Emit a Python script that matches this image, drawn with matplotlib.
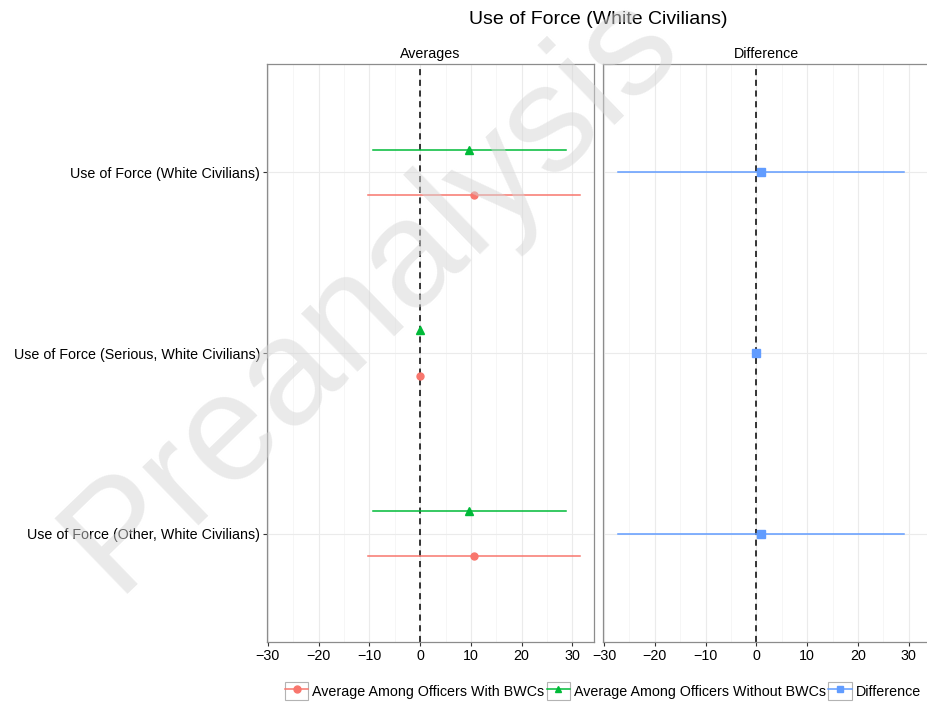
import matplotlib.pyplot as plt
from matplotlib.lines import Line2D
from matplotlib.patches import Rectangle
from matplotlib.legend_handler import HandlerTuple

plt.rcParams['font.family'] = ['Liberation Sans', 'DejaVu Sans']

# data
outcomes = ["Use of Force (White Civilians)",
            "Use of Force (Serious, White Civilians)",
            "Use of Force (Other, White Civilians)"]
with_est = [10.6, 0.0, 10.6]
with_lo = [-10.2, 0.0, -10.2]
with_hi = [31.4, 0.0, 31.4]
without_est = [9.7, 0.0, 9.7]
without_lo = [-9.3, 0.0, -9.3]
without_hi = [28.7, 0.0, 28.7]
diff_est = [1.0, 0.0, 1.0]
diff_lo = [-27.2, 0.0, -27.2]
diff_hi = [29.1, 0.0, 29.1]

red = "#F8766D"
green = "#00BA38"
blue = "#619CFF"

W, H = 927, 704
fs = 10.3
fig = plt.figure(figsize=(W / 100, H / 100), dpi=100)

ax1 = fig.add_axes([267 / W, 62 / H, 327.3 / W, 578 / H])
ax2 = fig.add_axes([603.3 / W, 62 / H, 327.3 / W, 578 / H])

ypos = [3, 2, 1]
dodge = 0.126


def style(ax):
    ax.set_xlim(-30.15, 34.3)
    ax.set_ylim(0.4, 3.6)
    ax.set_xticks([-30, -20, -10, 0, 10, 20, 30])
    ax.set_xticks([-25, -15, -5, 5, 15, 25], minor=True)
    ax.set_xticklabels(["\u221230", "\u221220", "\u221210", "0", "10", "20", "30"])
    ax.grid(which="major", color="#ebebeb", lw=0.8, zorder=0)
    ax.grid(which="minor", axis="x", color="#f5f5f5", lw=0.6, zorder=0)
    ax.set_axisbelow(True)
    for s in ax.spines.values():
        s.set_color("#8c8c8c")
        s.set_linewidth(0.9)
    ax.tick_params(axis="both", which="major", length=3, width=0.8, color="#333333",
                   labelsize=fs, labelcolor="black", pad=2)
    ax.tick_params(axis="x", which="minor", length=0)
    ax.axvline(0, color="black", ls=(0, (4, 3)), lw=1.1, zorder=2)


style(ax1)
style(ax2)

for i, y in enumerate(ypos):
    ax1.plot([without_lo[i], without_hi[i]], [y + dodge] * 2, color=green, lw=1.1, zorder=3)
    ax1.plot(without_est[i], y + dodge, marker="^", color=green, ms=5.5, zorder=4)
    ax1.plot([with_lo[i], with_hi[i]], [y - dodge] * 2, color=red, lw=1.1, zorder=3)
    ax1.plot(with_est[i], y - dodge, marker="o", color=red, ms=5, zorder=4)
    ax2.plot([diff_lo[i], diff_hi[i]], [y] * 2, color=blue, lw=1.1, zorder=3)
    ax2.plot(diff_est[i], y, marker="s", color=blue, ms=5.5, zorder=4)

ax1.set_yticks(ypos)
ax1.set_yticklabels(outcomes)
ax2.set_yticks(ypos)
ax2.set_yticklabels([])
ax2.tick_params(axis="y", length=0)

ax1.set_title("Averages", fontsize=fs, pad=4)
ax2.set_title("Difference", fontsize=fs, pad=4)
fig.text(598 / W, 1 - 20 / H, "Use of Force (White Civilians)", ha="center", va="center",
         fontsize=14)

# legend with bordered keys
def key(color, marker):
    box = Rectangle((0, 0), 1, 1, facecolor="white", edgecolor="#b3b3b3", lw=0.8)
    ln = Line2D([], [], color=color, marker=marker, lw=1.1, ms=5)
    return (box, ln)


handles = [key(red, "o"), key(green, "^"), key(blue, "s")]
labels = ["Average Among Officers With BWCs", "Average Among Officers Without BWCs", "Difference"]
fig.legend(handles, labels, loc="center", bbox_to_anchor=(603 / W, 1 - 691 / H), ncol=3,
           frameon=False, fontsize=fs, handlelength=1.65, handleheight=1.5,
           handletextpad=0.28, columnspacing=0.15,
           handler_map={tuple: HandlerTuple(ndivide=1)})

# watermark
fig.text(372 / W, 1 - 292 / H, "Preanalysis", fontsize=110, rotation=44, color="#d6d6d6",
         alpha=0.5, ha="center", va="center", zorder=10)

fig.savefig("out.png", dpi=100)
